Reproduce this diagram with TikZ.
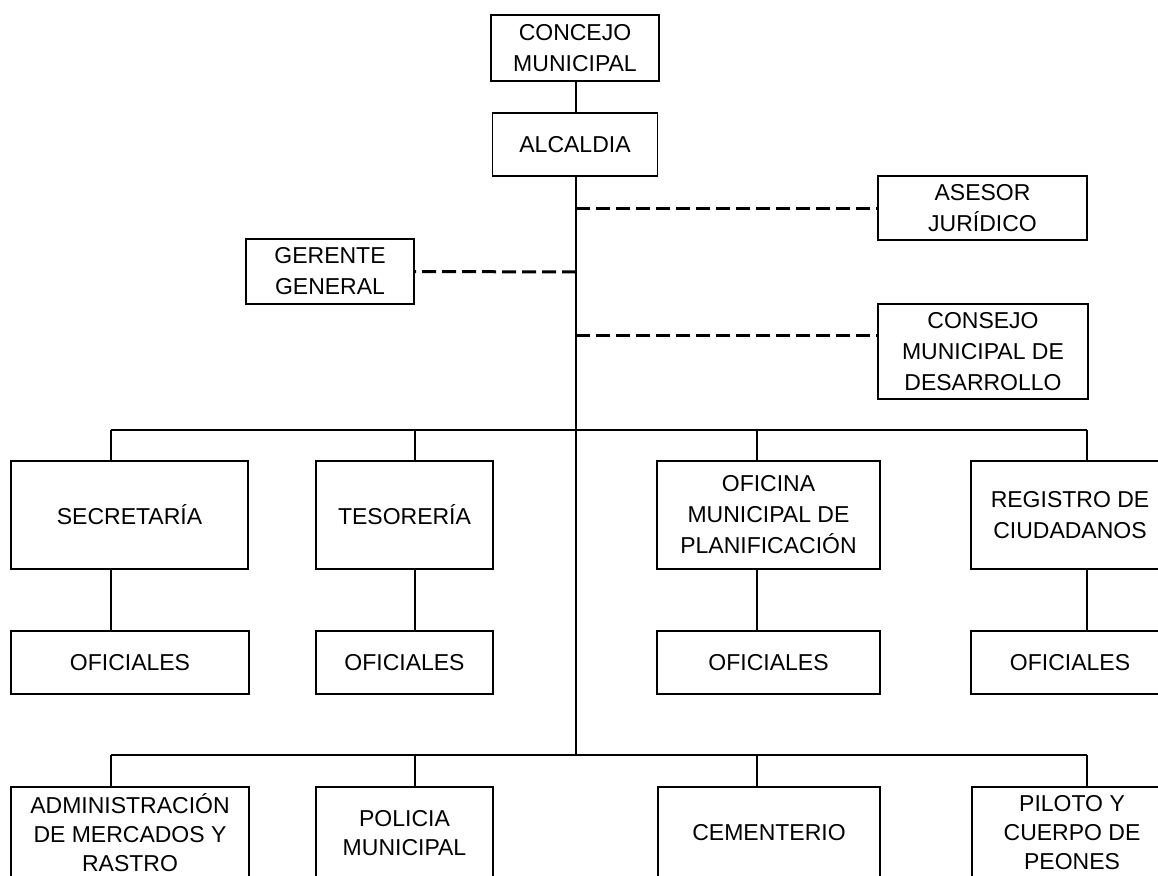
\documentclass[tikz,border=0pt]{standalone}
\usepackage{fontspec}
\setmainfont{Liberation Sans}
\begin{document}
\begin{tikzpicture}[x=1pt,y=-1pt,
  unit/.style={draw,line width=1.9pt,align=center,inner sep=0pt,font=\fontsize{23}{31}\selectfont},
  lowunit/.style={unit,minimum height=92,font=\fontsize{23}{29}\selectfont},
  link/.style={line width=1.9pt},
  advice/.style={line width=3pt,dash pattern=on 14pt off 6pt}]
\clip (0,0) rectangle (1158,875);
\node [unit,line width=2.8pt,minimum width=168,minimum height=66] (concejo) at (575,48) {CONCEJO\\MUNICIPAL};
\node [unit,minimum width=165,minimum height=63] (alcaldia) at (575,144.5) {ALCALDIA};
\node [unit,minimum width=209,minimum height=64] (asesor) at (982.5,208) {ASESOR\\JURÍDICO};
\node [unit,minimum width=168,minimum height=65] (gerente) at (330,271.5) {GERENTE\\GENERAL};
\node [unit,minimum width=210,minimum height=95] (desarrollo) at (983,351.5) {CONSEJO\\MUNICIPAL DE\\DESARROLLO};
% dependencias
\node [unit,minimum width=237,minimum height=108] (secretaria) at (129.5,515) {SECRETARÍA};
\node [unit,minimum width=177,minimum height=108] (tesoreria) at (404.5,515) {TESORERÍA};
\node [unit,minimum width=223,minimum height=108] (planificacion) at (768.5,515) {OFICINA\\MUNICIPAL DE\\PLANIFICACIÓN};
\node [unit,minimum width=198,minimum height=108] (registro) at (1070,515) {REGISTRO DE\\CIUDADANOS};
\node [unit,minimum width=238,minimum height=63] (ofsec) at (130,662.5) {OFICIALES};
\node [unit,minimum width=177,minimum height=63] (oftes) at (404.5,662.5) {OFICIALES};
\node [unit,minimum width=223,minimum height=63] (ofpla) at (768.5,662.5) {OFICIALES};
\node [unit,minimum width=198,minimum height=63] (ofreg) at (1070,662.5) {OFICIALES};
% servicios
\node [lowunit,minimum width=238] (mercados) at (130,833) {ADMINISTRACIÓN\\DE MERCADOS Y\\RASTRO};
\node [lowunit,minimum width=177] (policia) at (404.5,833) {POLICIA\\MUNICIPAL};
\node [lowunit,minimum width=222] (cementerio) at (769,833) {CEMENTERIO};
\node [lowunit,minimum width=200] (peones) at (1072,833) {PILOTO Y\\CUERPO DE\\PEONES};
\coordinate (jase) at (576,208);
\coordinate (jger) at (576,272);
\coordinate (jdes) at (576,335);
\coordinate (up1) at (111,430);
\coordinate (up2) at (415,430);
\coordinate (up3) at (757,430);
\coordinate (up4) at (1087,430);
\coordinate (lo1) at (111,755);
\coordinate (lo2) at (415,755);
\coordinate (lo3) at (757,755);
\coordinate (lo4) at (1087,755);
\draw[link] (concejo.south -| jase) -- (alcaldia.north -| jase);
\draw[link] (alcaldia.south -| jase) -- (lo1 -| jase);
\draw[advice] (jase) -- (asesor.west);
\draw[advice] (jger) -- (gerente.east);
\draw[advice] (jdes) -- (jdes -| desarrollo.west);
\draw[link] (up1) -- (up4);
\draw[link] (lo1) -- (lo4);
\foreach \p/\a/\b in {1/secretaria/ofsec,2/tesoreria/oftes,3/planificacion/ofpla,4/registro/ofreg} {
  \draw[link] (up\p) -- (up\p |- \a.north);
  \draw[link] (up\p |- \a.south) -- (up\p |- \b.north);
}
\foreach \p/\a in {1/mercados,2/policia,3/cementerio,4/peones}
  \draw[link] (lo\p) -- (lo\p |- \a.north);
\end{tikzpicture}
\end{document}
